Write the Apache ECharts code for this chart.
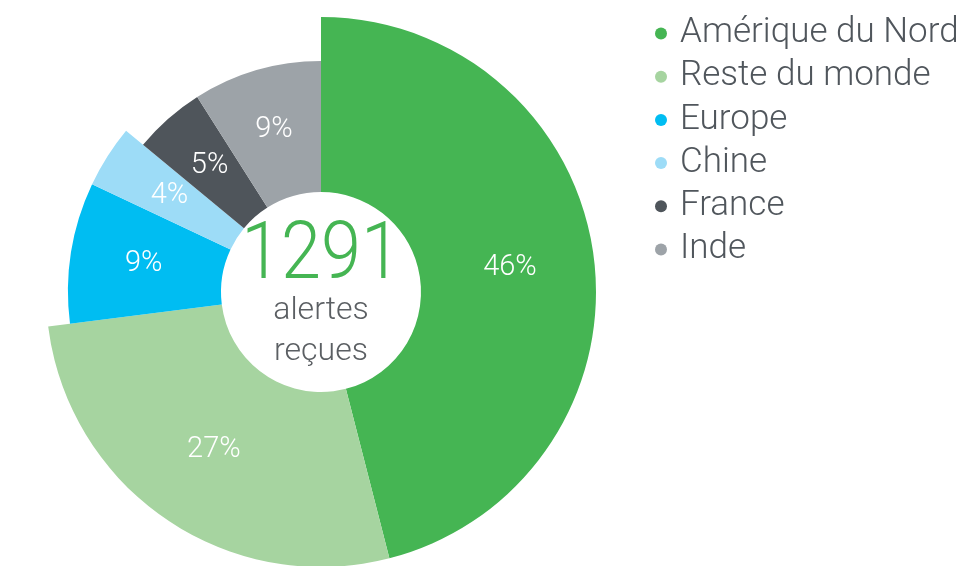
<!DOCTYPE html>
<html><head><meta charset="utf-8">
<script src="https://cdn.jsdelivr.net/npm/echarts@6/dist/echarts.min.js"></script>
<style>html,body{margin:0;padding:0;background:#fff}#c{width:974px;height:566px}</style>
</head><body><div id="c"></div>
<script>
const categories = ['Amérique du Nord', 'Reste du monde', 'Europe', 'Chine', 'France', 'Inde'];
const values = [46, 27, 9, 4, 5, 9];
const ringGroup = [0, 0, 1, 1, 2, 2];
const totalAlerts = 1291;
const centerLines = ['alertes', 'reçues'];

const colors = ['#45b553', '#a6d4a0', '#00bdf2', '#9ddcf7', '#4f555b', '#9da3a8'];
const outerRadii = [275, 253, 231];
const FONT = 'Roboto';
const cx = 321, cy = 292;

const chart = echarts.init(document.getElementById('c'));
const series = outerRadii.map((r, g) => ({
  type: 'pie',
  center: [cx, cy],
  radius: [100, r],
  startAngle: 90,
  clockwise: true,
  avoidLabelOverlap: false,
  silent: true,
  emphasis: { disabled: true },
  label: { show: true, position: 'inside', color: '#fff', fontFamily: FONT, fontWeight: 300, fontSize: 29, formatter: '{c}%' },
  labelLine: { show: false },
  data: categories.map((n, i) => ringGroup[i] === g
    ? { name: n, value: values[i], itemStyle: { color: colors[i] } }
    : { name: n, value: values[i], itemStyle: { color: 'rgba(0,0,0,0)' }, label: { show: false } })
}));

chart.setOption({
  animation: false,
  legend: {
    orient: 'vertical',
    left: 650, top: 11,
    icon: 'circle',
    itemWidth: 12, itemHeight: 12,
    itemGap: 8.2,
    selectedMode: false,
    textStyle: { fontFamily: FONT, fontWeight: 300, fontSize: 35, lineHeight: 34, color: '#50565c', padding: [0, 0, 0, 8] },
    data: categories.map((n, i) => ({ name: n, itemStyle: { color: colors[i] } }))
  },
  series: series,
  graphic: [
    { type: 'text', x: cx, y: 258, scaleX: 0.9, style: { text: String(totalAlerts), x: 0, y: 0, textAlign: 'center', textVerticalAlign: 'middle', fill: '#45b553', font: '300 80px ' + FONT } },
    { type: 'text', style: { text: centerLines[0], x: cx, y: 311, textAlign: 'center', textVerticalAlign: 'middle', fill: '#5b5f63', font: '300 32px ' + FONT } },
    { type: 'text', style: { text: centerLines[1], x: cx, y: 352, textAlign: 'center', textVerticalAlign: 'middle', fill: '#5b5f63', font: '300 32px ' + FONT } }
  ]
});
</script></body></html>
